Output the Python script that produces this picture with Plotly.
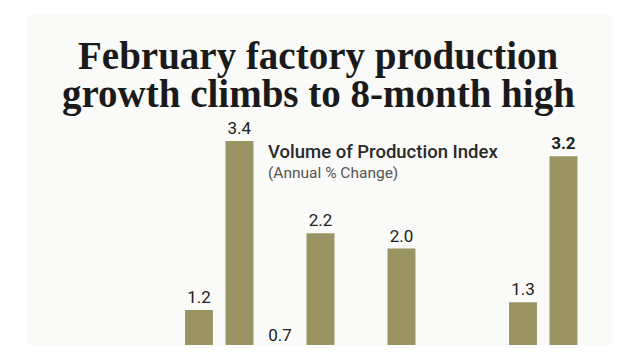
import plotly.graph_objects as go

# Data (months May..Feb), hidden ones estimated
months = ["May", "Jun", "Jul", "Aug", "Sep", "Oct", "Nov", "Dec", "Jan", "Feb"]
growth = [1.2, 3.4, 0.7, 2.2, 0.3, 2.0, -0.2, 0.5, 1.3, 3.2]
labels = [f"{v:.1f}" for v in growth]
labels[-1] = "<b>" + labels[-1] + "</b>"

title_lines = ["February factory production", "growth climbs to 8-month high"]
sub_title = "Volume of Production Index"
sub_note = "(Annual % Change)"

# page is rendered with an 8px body margin: compensate
OFF = 8
W, H = 640, 360
L, R, T, B = 27 - OFF, 640 - 612 + OFF, 15 - OFF, 360 - 345 + OFF
plot_w, plot_h = W - L - R, H - T - B

def px(xpage):
    return (xpage - OFF - L) / plot_w

def py(ypage):
    return (H - B - (ypage - OFF)) / plot_h

sans = "Roboto, sans-serif"

fig = go.Figure(go.Bar(
    x=list(range(len(months))),
    y=growth,
    customdata=months,
    width=0.69,
    marker=dict(color="#9a9462", line=dict(width=0)),
    text=labels,
    textposition="outside",
    cliponaxis=True,
    constraintext="none",
    textfont=dict(family=sans, size=17, color="#222222"),
    hovertemplate="%{customdata}: %{y}<extra></extra>",
))

fig.update_layout(
    width=W, height=H,
    margin=dict(l=L, r=R, t=T, b=B),
    paper_bgcolor="white",
    plot_bgcolor="#fafaf8",
    showlegend=False,
    xaxis=dict(range=[-4.247, 10.198], showticklabels=False, showgrid=False,
               zeroline=False, showline=False, ticks=""),
    yaxis=dict(range=[0.744, 5.04], showticklabels=False, showgrid=False,
               zeroline=False, showline=False, ticks=""),
)

title_font = dict(family="Liberation Serif, serif", size=39,
                  color="#1a1a1a", weight="bold")
fig.add_annotation(text=title_lines[0], xref="paper", yref="paper",
                   x=px(318), y=py(56), xanchor="center", yanchor="middle",
                   showarrow=False, font=title_font)
fig.add_annotation(text=title_lines[1], xref="paper", yref="paper",
                   x=px(318), y=py(94), xanchor="center", yanchor="middle",
                   showarrow=False, font=title_font)
fig.add_annotation(text=sub_title, xref="paper", yref="paper",
                   x=px(266), y=py(152), xanchor="left", yanchor="middle",
                   showarrow=False,
                   font=dict(family=sans, size=18.5, color="#2a2a2a", weight=500))
fig.add_annotation(text=sub_note, xref="paper", yref="paper",
                   x=px(266), y=py(173), xanchor="left", yanchor="middle",
                   showarrow=False,
                   font=dict(family=sans, size=15.5, color="#555555"))

fig.write_html("out.html")
